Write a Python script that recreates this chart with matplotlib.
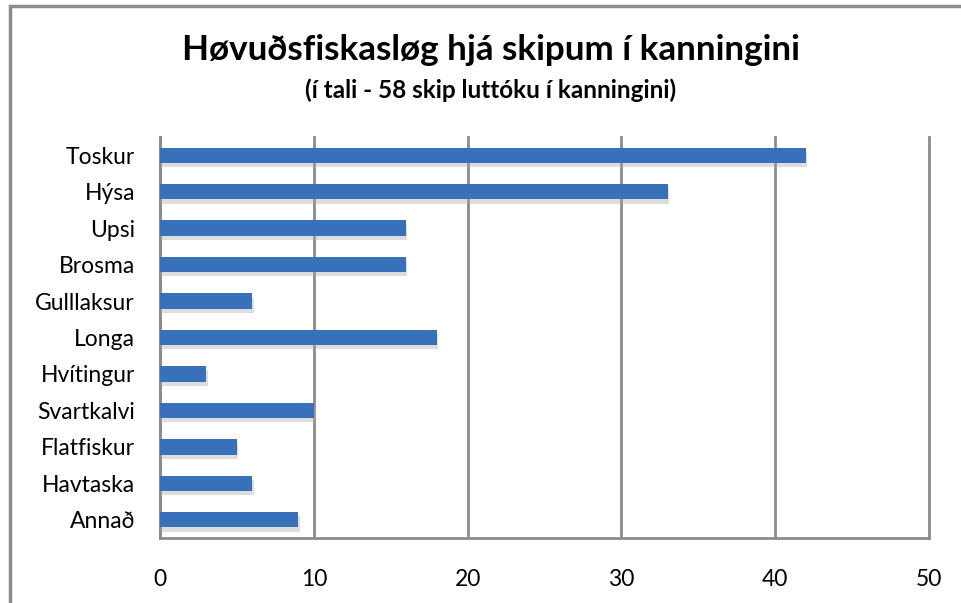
import matplotlib
matplotlib.use("Agg")
import matplotlib.pyplot as plt
import matplotlib.patheffects as pe
from matplotlib.patches import Rectangle

categories = ["Toskur", "Hýsa", "Upsi", "Brosma", "Gulllaksur", "Longa",
              "Hvítingur", "Svartkalvi", "Flatfiskur", "Havtaska", "Annað"]
values = [42, 33, 16, 16, 6, 18, 3, 10, 5, 6, 9]
xticks = [0, 10, 20, 30, 40, 50]
title = "Høvuðsfiskasløg hjá skipum í kanningini"
subtitle = "(í tali - 58 skip luttóku í kanningini)"

plt.rcParams['font.family'] = ['Lato', 'DejaVu Sans']

fig = plt.figure(figsize=(9.62, 6.03), dpi=100)
ax = fig.add_axes([160/962, 1-538/603, (929-160)/962, (538-137)/603])

ypos = list(range(len(categories)))
bars = ax.barh(ypos, values, height=0.42, color="#3870ba", zorder=3)
for b in bars:
    b.set_path_effects([pe.SimplePatchShadow(offset=(1, -3), shadow_rgbFace="#aaaaaa", alpha=0.4),
                        pe.Normal()])

ax.set_ylim(len(categories)-0.5, -0.5)
ax.set_xlim(0, 50)
ax.set_yticks(ypos)
ax.set_yticklabels(categories, fontsize=16.5)
ax.set_xticks(xticks)
ax.set_xticklabels([str(t) for t in xticks], fontsize=16.5)
ax.tick_params(axis='y', length=0, pad=18)
ax.tick_params(axis='x', length=0, pad=22)
ax.grid(axis='x', color="#8c8c8c", linewidth=2, zorder=0)
for line in ax.get_xgridlines():
    line.set_clip_on(False)
for s in ["top", "right"]:
    ax.spines[s].set_visible(False)
for s in ["left", "bottom"]:
    ax.spines[s].set_color("#8c8c8c")
    ax.spines[s].set_linewidth(2)

fig.text(491/962, 1-50/603, title, ha="center", va="center", fontsize=25.2, fontweight="bold")
fig.text(491/962, 1-90/603, subtitle, ha="center", va="center", fontsize=17.5, fontweight="bold")

fig.patches.append(Rectangle((10/962, -0.1), 1.2, 1.1 - 6/603, transform=fig.transFigure,
                             fill=False, edgecolor="#8c8c8c", linewidth=2.5))

fig.savefig("out.png", dpi=100)
